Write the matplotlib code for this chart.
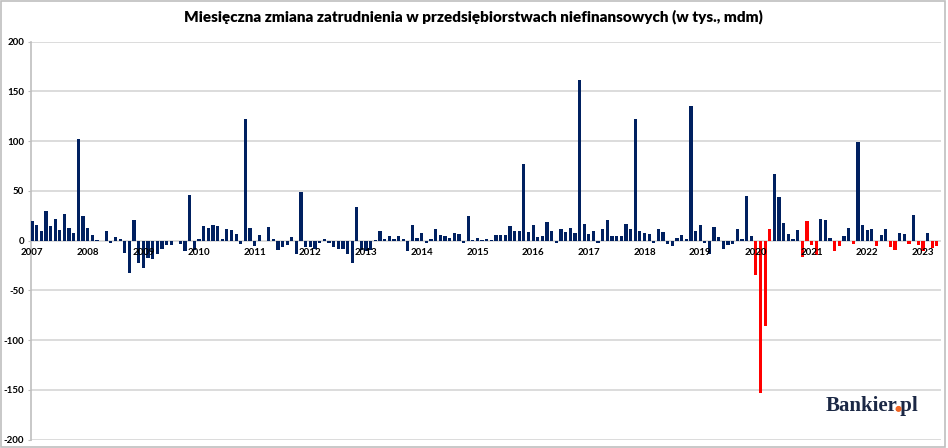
import matplotlib
matplotlib.use("Agg")
import matplotlib.pyplot as plt
from matplotlib.patches import Rectangle, Ellipse
from matplotlib.font_manager import FontProperties
import numpy as np

plt.rcParams["axes.unicode_minus"] = False

# miesięczna zmiana zatrudnienia (tys.), od stycznia 2007
zmiana = [
    20, 16, 10, 30, 15, 22, 11, 27, 13, 8, 102, 25,
    13, 6, 1, 0, 10, -2, 4, 2, -12, -33, 21, -23,
    -28, -17, -18, -13, -8, -4, -4, 0, -3, -10, 46, -9,
    2, 15, 13, 16, 15, 2, 12, 11, 7, -3, 122, 13,
    -5, 6, 0, 14, 2, -9, -6, -4, 4, -13, 49, -6,
    -6, -8, -2, 2, -2, -6, -8, -8, -13, -23, 34, -9,
    -10, -9, 1, 10, 2, 5, 2, 5, 2, -10, 16, 3,
    8, -2, 2, 12, 6, 5, 3, 8, 7, -2, 25, 1,
    3, 1, 2, 1, 6, 6, 6, 15, 10, 10, 77, 9,
    16, 4, 5, 19, 10, -2, 12, 9, 13, 8, 161, 17,
    7, 10, -2, 12, 21, 5, 5, 5, 17, 12, 122, 10,
    8, 7, -2, 12, 9, -3, -5, 3, 6, 2, 135, 10,
    16, -2, -13, 14, 4, -8, -4, -3, 12, 2, 45, 5,
    -35, -153, -86, 12, 67, 44, 18, 7, 2, 11, -16, 20,
    -4, -14, 22, 21, 3, -10, -5, 5, 13, -3, 99, 16,
    11, 12, -5, 6, 12, -6, -9, 8, 7, -3, 26, -4,
    -10, 8, -7, -5,
]
# miesiące wyróżnione na czerwono (indeksy)
wyroznione = [156, 157, 158, 159, 166, 167, 168, 169, 173, 174, 177,
              182, 185, 186, 189, 191, 192, 194, 195]
lata = [str(r) for r in range(2007, 2024)]

navy = "#002060"
red = "#ff0000"
grid_c = "#d9d9d9"

x = np.arange(len(zmiana))
kolory = [red if i in wyroznione else navy for i in x]

fig = plt.figure(figsize=(9.48, 4.48), dpi=100)
ax = fig.add_axes([30.5 / 948, 1 - 439.5 / 448, (941 - 30.5) / 948, (439.5 - 41.7) / 448])

ax.bar(x, zmiana, width=0.7, color=kolory, zorder=3)

ax.set_xlim(-0.32, 195.9)
ax.set_ylim(-200, 200)
ax.set_yticks(np.arange(-200, 201, 50))
ax.yaxis.grid(True, color=grid_c, lw=1.3, zorder=0)
ax.set_axisbelow(True)
ax.set_xticks([])
for s in ["top", "right", "bottom"]:
    ax.spines[s].set_visible(False)
ax.spines["left"].set_color("#bfbfbf")
ax.spines["left"].set_linewidth(1.2)
ax.tick_params(axis="y", length=2.5, color="#bfbfbf", pad=2, labelsize=7)
for t in ax.get_yticklabels():
    t.set_fontweight("bold")
    t.set_family("Lato")

# etykiety lat przy osi zero
for k, rok in enumerate(lata):
    ax.text(k * 12, -12, rok, ha="center", va="center", fontsize=7,
            fontweight="bold", family="Lato", zorder=5)

fig.text(0.499, 1 - 17 / 448, "Miesięczna zmiana zatrudnienia w przedsiębiorstwach niefinansowych (w tys., mdm)",
         ha="center", va="center", fontsize=11, fontweight="heavy", family="Lato")

# logo: jeden tekst, kropka przykryta pomarańczowym punktem
fig.canvas.draw()
r = fig.canvas.get_renderer()
fp = FontProperties(family="Liberation Serif", weight="bold", size=15)


def szer(s):
    return r.get_text_width_height_descent(s, fp, ismath=False)[0]


x0, yb = 826, 411
fig.text(x0 / 948, 1 - yb / 448, "Bankier.pl", ha="left", va="baseline",
         fontproperties=fp, color="#1b2845")
xd = x0 + szer("Bankier.") - szer(".") / 2
fig.patches.append(Ellipse((xd / 948, 1 - (yb - 2.1) / 448), 4.6 / 948, 4.6 / 448,
                           transform=fig.transFigure, color="#f26522", zorder=10))

fig.patches.append(Rectangle((0.001, 0.002), 0.996, 0.995, transform=fig.transFigure,
                             fill=False, edgecolor="#bfbfbf", lw=1.2))

fig.savefig("out.png", dpi=100)
